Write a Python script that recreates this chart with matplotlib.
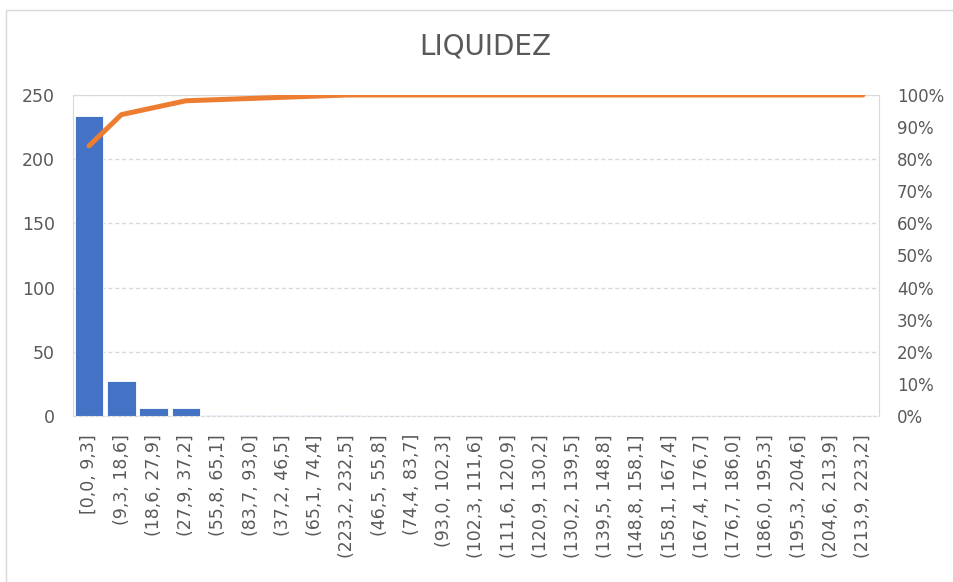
import numpy as np
import matplotlib
matplotlib.use("Agg")
import matplotlib.pyplot as plt
from matplotlib.patches import Rectangle
from matplotlib.ticker import PercentFormatter

# bins, in the order the pareto chart shows them (sorted by count)
categories = ["[0,0, 9,3]", "(9,3, 18,6]", "(18,6, 27,9]", "(27,9, 37,2]",
              "(55,8, 65,1]", "(83,7, 93,0]", "(37,2, 46,5]", "(65,1, 74,4]",
              "(223,2, 232,5]", "(46,5, 55,8]", "(74,4, 83,7]", "(93,0, 102,3]",
              "(102,3, 111,6]", "(111,6, 120,9]", "(120,9, 130,2]", "(130,2, 139,5]",
              "(139,5, 148,8]", "(148,8, 158,1]", "(158,1, 167,4]", "(167,4, 176,7]",
              "(176,7, 186,0]", "(186,0, 195,3]", "(195,3, 204,6]", "(204,6, 213,9]",
              "(213,9, 223,2]"]
counts = [234, 27, 6, 6, 1, 1, 1, 1, 1, 0, 0, 0, 0, 0, 0, 0, 0, 0, 0, 0, 0, 0, 0, 0, 0]
left_ticks = [0, 50, 100, 150, 200, 250]
right_ticks = [0, .1, .2, .3, .4, .5, .6, .7, .8, .9, 1.0]

bar_color = "#4472C4"
line_color = "#ED7D31"
text_color = "#595959"
grid_color = "#D9D9D9"

cum = np.cumsum(counts) / np.sum(counts)
x = np.arange(len(categories))

fig = plt.figure(figsize=(9.54, 5.82), dpi=100)
ax = fig.add_axes([73/954, 1-416/582, (879-73)/954, (416-95)/582])

ax.bar(x, counts, width=0.88, color=bar_color, edgecolor="white", linewidth=0.6, zorder=2)
ax.set_xlim(-0.5, len(categories) - 0.5)
ax.set_ylim(0, 250)
ax.set_yticks(left_ticks)
ax.set_xticks(x)
ax.set_xticklabels(categories, rotation=90)
ax.grid(axis="y", color=grid_color, linestyle=(0, (3, 2)), linewidth=1, zorder=0)
ax.tick_params(axis="both", length=0, colors=text_color, labelsize=12.5)
ax.tick_params(axis="x", pad=13)
ax.tick_params(axis="y", pad=13)
for s in ax.spines.values():
    s.set_color(grid_color)
ax.spines["bottom"].set_linestyle((0, (3, 2)))

ax2 = ax.twinx()
ax2.plot(x, cum, color=line_color, linewidth=3.6, solid_capstyle="round", zorder=3)
ax2.set_ylim(0, 1)
ax2.set_yticks(right_ticks)
ax2.yaxis.set_major_formatter(PercentFormatter(1.0, decimals=0))
ax2.tick_params(axis="y", length=0, colors=text_color, labelsize=12, pad=13)
for s in ax2.spines.values():
    s.set_visible(False)

fig.text(485/954, 1-47/582, "LIQUIDEZ", ha="center", va="center",
         fontsize=20, color=text_color)

# chart area border
fig.patches.append(Rectangle((6/954, -0.05), 1.2, 1-10/582+0.05, transform=fig.transFigure,
                             fill=False, edgecolor=grid_color, linewidth=1))

fig.savefig("out.png", dpi=100)
